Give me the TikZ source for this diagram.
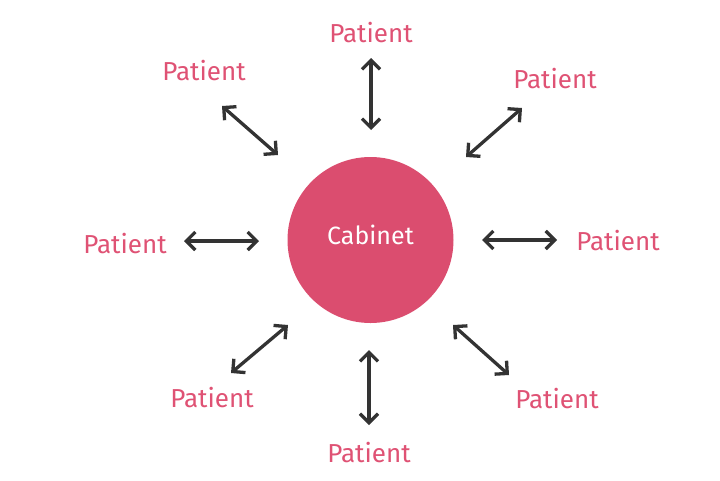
\documentclass[tikz,border=0pt]{standalone}
\usepackage{fontspec}
\setmainfont{Fira Sans}
\usetikzlibrary{arrows.meta}
\definecolor{pink}{HTML}{DB4D6F}
\definecolor{ptext}{HTML}{DF5274}
\definecolor{arr}{HTML}{333333}
\begin{document}
\begin{tikzpicture}[x=1pt,y=-1pt,
  pt/.style={text=ptext,font=\fontsize{26}{28}\selectfont,inner sep=0pt},
  link/.style={draw=arr,line width=3.3pt,{Straight Barb[length=9pt,width=18pt,line width=3.3pt]}-{Straight Barb[length=9pt,width=18pt,line width=3.3pt]}}]
\useasboundingbox (0,0) rectangle (720,480);
\node[circle,fill=pink,minimum size=166pt,inner sep=0pt] (c) at (370.5,240) {};
\node[text=white,font=\fontsize{25}{27}\selectfont,inner sep=0pt] (cl) at (370.5,235) {Cabinet};
\node[pt] (p1) at (371,33) {Patient};
\node[pt] (p2) at (204,71) {Patient};
\node[pt] (p3) at (555,79) {Patient};
\node[pt] (p4) at (125,244) {Patient};
\node[pt] (p5) at (618,241) {Patient};
\node[pt] (p6) at (212,398) {Patient};
\node[pt] (p7) at (369,453) {Patient};
\node[pt] (p8) at (557,399) {Patient};
\coordinate (a1) at (371,58); \coordinate (b1) at (371,130);
\coordinate (a2) at (222,106); \coordinate (b2) at (278,155);
\coordinate (a3) at (522,108); \coordinate (b3) at (466,157);
\coordinate (a4) at (184,241); \coordinate (b4) at (259,241);
\coordinate (a5) at (557,240); \coordinate (b5) at (482,240);
\coordinate (a6) at (231,373); \coordinate (b6) at (288,325);
\coordinate (a7) at (369,425); \coordinate (b7) at (369,350);
\coordinate (a8) at (509,375); \coordinate (b8) at (453,325);
\foreach \i in {1,...,8} { \draw[link] (a\i) -- (b\i); }
\end{tikzpicture}
\end{document}
